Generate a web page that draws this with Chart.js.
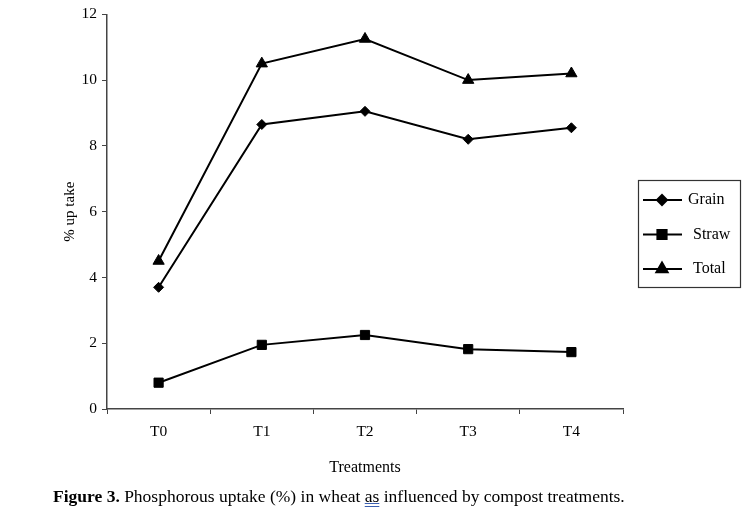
<!DOCTYPE html>
<html>
<head>
<meta charset="utf-8">
<script src="https://cdn.jsdelivr.net/npm/chart.js@4"></script>
<style>
    body { margin: 0; background: #fff; }
    #wrap { position: relative; width: 750px; height: 518px; }
    #caption {
        position: absolute;
        left: 53px;
        top: 486px;
        font-family: "Liberation Serif", "Times New Roman", serif;
        font-size: 17.5px;
        color: #000;
        white-space: nowrap;
    }
    #caption .as { text-decoration: underline double #3b5fb0; }
</style>
</head>
<body>
<div id="wrap">
    <canvas id="chart" width="750" height="518"></canvas>
    <div id="caption"><b>Figure 3.</b> Phosphorous uptake (%) in wheat <span class="as">as</span> influenced by compost treatments.</div>
</div>
<script>
    // Data
    const treatments = ["T0", "T1", "T2", "T3", "T4"];
    const grain = [3.7, 8.65, 9.05, 8.2, 8.55];
    const straw = [0.8, 1.95, 2.25, 1.82, 1.73];
    const total = [4.5, 10.5, 11.25, 10.0, 10.2];
    const yTicks = [0, 2, 4, 6, 8, 10, 12];

    const serif = "'Liberation Serif', 'Times New Roman', serif";

    // Legend drawn as a boxed list at the right, like the original
    const boxedLegend = {
        id: "boxedLegend",
        afterDraw(chart) {
            const ctx = chart.ctx;
            ctx.save();
            ctx.strokeStyle = "#333";
            ctx.lineWidth = 1.2;
            ctx.strokeRect(638.5, 180.5, 102, 107);
            chart.data.datasets.forEach((ds, i) => {
                const y = 200 + i * 34.5;
                ctx.strokeStyle = "#000";
                ctx.lineWidth = 2;
                ctx.beginPath();
                ctx.moveTo(643, y);
                ctx.lineTo(682, y);
                ctx.stroke();
                ctx.fillStyle = "#000";
                Chart.helpers.drawPoint(ctx, {
                    pointStyle: ds.pointStyle,
                    radius: ds.pointRadius,
                    rotation: 0,
                    borderWidth: 1
                }, 662, y);
                ctx.font = "16px " + serif;
                ctx.textBaseline = "middle";
                ctx.textAlign = "left";
                ctx.fillText(ds.label, 688 + (i > 0 ? 5 : 0), y);
            });
            ctx.restore();
        }
    };

    const ctx = document.getElementById("chart").getContext("2d");
    const chart = new Chart(ctx, {
        type: "line",
        data: {
            labels: treatments,
            datasets: [
                { label: "Grain", data: grain, pointStyle: "rectRot", pointRadius: 5 },
                { label: "Straw", data: straw, pointStyle: "rect", pointRadius: 6.5 },
                { label: "Total", data: total, pointStyle: "triangle", pointRadius: 6.5 }
            ].map(ds => Object.assign(ds, {
                borderColor: "#000",
                backgroundColor: "#000",
                pointBackgroundColor: "#000",
                pointBorderColor: "#000",
                pointBorderWidth: 1,
                borderWidth: 2,
                tension: 0
            }))
        },
        options: {
            responsive: false,
            animation: false,
            layout: { padding: { top: 14, left: 0, right: 127, bottom: 0 } },
            plugins: {
                legend: { display: false },
                tooltip: { enabled: false }
            },
            scales: {
                x: {
                    offset: true,
                    grid: {
                        offset: true,
                        drawOnChartArea: false,
                        drawTicks: true,
                        tickLength: 5,
                        color: "#444",
                        lineWidth: 1
                    },
                    border: { display: true, color: "#444", width: 1.5 },
                    ticks: {
                        color: "#000",
                        padding: 9,
                        font: { family: serif, size: 15.5 }
                    },
                    title: {
                        display: true,
                        text: "Treatments",
                        color: "#000",
                        font: { family: serif, size: 16 },
                        padding: { top: 0, bottom: 41 }
                    },
                    afterFit(scale) { scale.height = 109; }
                },
                y: {
                    min: 0,
                    max: 12,
                    afterBuildTicks(scale) {
                        scale.ticks = yTicks.map(v => ({ value: v }));
                    },
                    grid: {
                        drawOnChartArea: false,
                        drawTicks: true,
                        tickLength: 5,
                        color: "#444"
                    },
                    border: { display: true, color: "#444", width: 1.5 },
                    ticks: {
                        color: "#000",
                        padding: 5,
                        font: { family: serif, size: 15.5 }
                    },
                    title: {
                        display: true,
                        text: "% up take",
                        color: "#000",
                        font: { family: serif, size: 15 },
                        padding: { top: 61, bottom: 0 }
                    },
                    afterFit(scale) { scale.width = 107; }
                }
            }
        },
        plugins: [boxedLegend]
    });
</script>
</body>
</html>
